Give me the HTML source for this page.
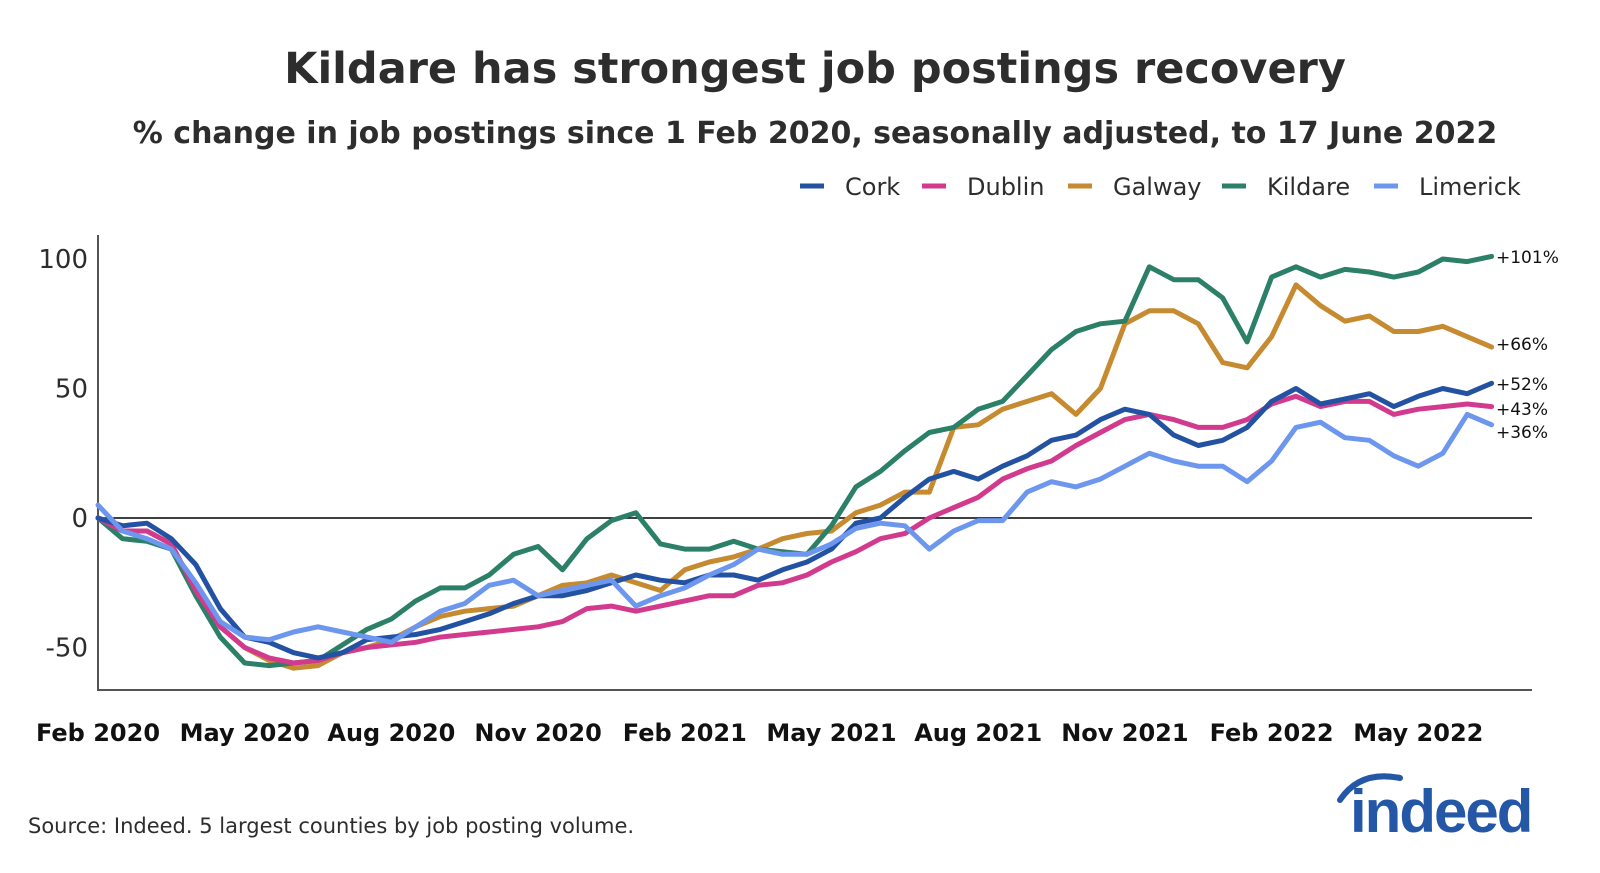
<!DOCTYPE html>
<html><head><meta charset="utf-8"><style>
body{margin:0;background:#fff;width:1600px;height:873px;overflow:hidden;font-family:"Liberation Sans","DejaVu Sans",sans-serif;}
svg{display:block}
</style></head><body>
<svg id="chart" width="1600" height="873" viewBox="0 0 1600 873" font-family="'DejaVu Sans','Liberation Sans',sans-serif">
<text x="815" y="83" text-anchor="middle" font-size="43" font-weight="bold" fill="#2d2d2d">Kildare has strongest job postings recovery</text>
<text x="815" y="143" text-anchor="middle" font-size="30" font-weight="bold" fill="#2d2d2d">% change in job postings since 1 Feb 2020, seasonally adjusted, to 17 June 2022</text>
<g id="legend"></g>
<g id="axes"></g>
<g id="lines"></g>
<g id="labels"></g>
<text x="28" y="833" font-size="21" fill="#2d2d2d">Source: Indeed. 5 largest counties by job posting volume.</text>
<g>
<path d="M1340 800 Q1360 770 1400 778" stroke="#2557a7" stroke-width="6" fill="none" stroke-linecap="round"/>
<text x="1350" y="832" font-size="60" font-weight="bold" fill="#2557a7" font-family="'Liberation Sans',sans-serif" letter-spacing="-2">indeed</text>
</g>
</svg>
<script>
const months = [];
for (let i = 0; i <= 57; i++) months.push(i * 0.5);
const seriesNames = ["Cork","Dublin","Galway","Kildare","Limerick"];
const colors = ["#2352a3","#d23a8e","#c68a30","#2b8067","#6d97ef"];
const cork = [0,-3,-2,-8,-18,-35,-46,-48,-52,-54,-52,-47,-46,-45,-43,-40,-37,-33,-30,-30,-28,-25,-22,-24,-25,-22,-22,-24,-20,-17,-12,-2,0,8,15,18,15,20,24,30,32,38,42,40,32,28,30,35,45,50,44,46,48,43,47,50,48,52];
const dublin = [0,-5,-5,-10,-28,-42,-50,-54,-56,-55,-52,-50,-49,-48,-46,-45,-44,-43,-42,-40,-35,-34,-36,-34,-32,-30,-30,-26,-25,-22,-17,-13,-8,-6,0,4,8,15,19,22,28,33,38,40,38,35,35,38,44,47,43,45,45,40,42,43,44,43];
const galway = [0,-5,-5,-10,-28,-42,-50,-55,-58,-57,-52,-50,-47,-42,-38,-36,-35,-34,-30,-26,-25,-22,-25,-28,-20,-17,-15,-12,-8,-6,-5,2,5,10,10,35,36,42,45,48,40,50,75,80,80,75,60,58,70,90,82,76,78,72,72,74,70,66];
const kildare = [0,-8,-9,-12,-30,-46,-56,-57,-56,-55,-49,-43,-39,-32,-27,-27,-22,-14,-11,-20,-8,-1,2,-10,-12,-12,-9,-12,-13,-14,-3,12,18,26,33,35,42,45,55,65,72,75,76,97,92,92,85,68,93,97,93,96,95,93,95,100,99,101];
const limerick = [5,-5,-8,-12,-25,-40,-46,-47,-44,-42,-44,-46,-48,-42,-36,-33,-26,-24,-30,-28,-26,-24,-34,-30,-27,-22,-18,-12,-14,-14,-10,-4,-2,-3,-12,-5,-1,-1,10,14,12,15,20,25,22,20,20,14,22,35,37,31,30,24,20,25,40,36];
const endLabels = ["+52%","+43%","+66%","+101%","+36%"];
const endLabelY = [384,409,344,257,432];
const yTicks = [100,50,0,-50];
const xTickLabels = ["Feb 2020","May 2020","Aug 2020","Nov 2020","Feb 2021","May 2021","Aug 2021","Nov 2021","Feb 2022","May 2022"];
const xTickMonths = [0,3,6,9,12,15,18,21,24,27];

const NS = "http://www.w3.org/2000/svg";
const xS = m => 98 + m * 48.9;
const yS = v => 518 - v * 2.59;
function mk(tag, attrs, parent, txt){const e=document.createElementNS(NS,tag);for(const k in attrs)e.setAttribute(k,attrs[k]);if(txt!==undefined)e.textContent=txt;parent.appendChild(e);return e;}
const axes=document.getElementById('axes'), lines=document.getElementById('lines'), labels=document.getElementById('labels'), legend=document.getElementById('legend');

let a=mk('line',{x1:98,y1:235,x2:98,y2:690,stroke:'#555','stroke-width':2},axes);


a=mk('line',{x1:97,y1:690,x2:1532,y2:690,stroke:'#555','stroke-width':2},axes);


a=mk('line',{x1:98,y1:yS(0),x2:1532,y2:yS(0),stroke:'#000','stroke-width':1.5},axes);


yTicks.forEach(t=>{
  const e=mk('text',{x:88,y:yS(t)+9,'text-anchor':'end','font-size':26,fill:'#2d2d2d'},axes,String(t));
  
  
});
xTickLabels.forEach((t,i)=>{
  const e=mk('text',{x:xS(xTickMonths[i]),y:741,'text-anchor':'middle','font-size':24,'font-weight':'bold',fill:'#111'},axes,t);
  
  
});
const data=[cork,dublin,galway,kildare,limerick];
const order=[2,3,1,0,4];
order.forEach(s=>{
  const pts=data[s].map((v,i)=>xS(months[i]).toFixed(1)+','+yS(v).toFixed(1)).join(' ');
  const p=mk('polyline',{points:pts,fill:'none',stroke:colors[s],'stroke-width':5,'stroke-linejoin':'round','stroke-linecap':'round'},lines);
  
  
});
endLabels.forEach((t,i)=>{
  const e=mk('text',{x:1496,y:endLabelY[i]+6,'font-size':17,fill:'#111'},labels,t);
  
  
});
const legX=[800,922,1068,1222,1374];
seriesNames.forEach((n,i)=>{
  const g=mk('g',{},legend);
  
  
  mk('line',{x1:legX[i],y1:186,x2:legX[i]+24,y2:186,stroke:colors[i],'stroke-width':5},g);
  mk('text',{x:legX[i]+45,y:195,'font-size':24,fill:'#2d2d2d'},g,n);
});
</script>
</body></html>
